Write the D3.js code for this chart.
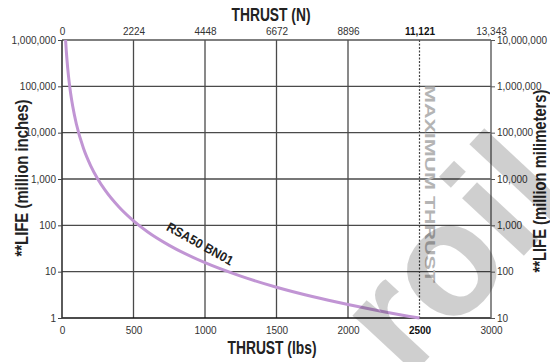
<!DOCTYPE html>
<html>
<head>
<meta charset="utf-8">
<script src="https://cdn.jsdelivr.net/npm/d3@7"></script>
<style>
  body { margin: 0; background: #fff; }
  svg { display: block; font-family: "Liberation Sans", Arial, sans-serif; }
</style>
</head>
<body>
<div id="chart"></div>
<script>
// thrust in lbs, life in million inches
const thrustLbs = [25, 30, 40, 50, 60, 75, 100, 150, 200, 250, 300, 400, 500, 600, 750, 1000, 1250, 1500, 1750, 2000, 2250, 2500];
const lifeInches = [1000000, 580000, 245000, 125000, 72000, 37000, 15600, 4600, 1950, 1000, 580, 245, 125, 72, 37, 15.6, 8, 4.6, 2.9, 1.95, 1.37, 1];

const bottomTicks = [0, 500, 1000, 1500, 2000, 2500, 3000];
const topTickLabels = ["0", "2224", "4448", "6672", "8896", "11,121", "13,343"];
const leftTicks = [1, 10, 100, 1000, 10000, 100000, 1000000];
const rightTickLabels = ["10", "100", "1,000", "10,000", "100,000", "1,000,000", "10,000,000"];
const maxThrust = 2500;
const curveName = "RSA50 BN01";

const width = 550, height = 362;
const margin = { top: 40, right: 59, bottom: 44, left: 62 };
const iw = width - margin.left - margin.right;
const ih = height - margin.top - margin.bottom;

const svg = d3.select("#chart").append("svg")
  .attr("width", width)
  .attr("height", height);

const g = svg.append("g")
  .attr("transform", "translate(" + margin.left + "," + margin.top + ")");

let x = d3.scaleLinear().domain([0, 3000]).range([0, iw]);
let y = d3.scaleLog().domain([1, 1000000]).range([ih, 0]);

const gridColor = "#4a4a4a";

// horizontal grid
g.append("g").selectAll("line")
  .data(leftTicks.slice(1, -1))
  .join("line")
  .attr("x1", 0).attr("x2", iw)
  .attr("y1", d => y(d)).attr("y2", d => y(d))
  .attr("stroke", gridColor).attr("stroke-width", 1.3);

// vertical grid (except max thrust, drawn dotted)
g.append("g").selectAll("line")
  .data(bottomTicks.filter(d => d != 0 && d != 3000 && d != maxThrust))
  .join("line")
  .attr("x1", d => x(d)).attr("x2", d => x(d))
  .attr("y1", 0).attr("y2", ih)
  .attr("stroke", gridColor).attr("stroke-width", 1.3);

g.append("line")
  .attr("x1", x(maxThrust)).attr("x2", x(maxThrust))
  .attr("y1", 0).attr("y2", ih)
  .attr("stroke", "#444").attr("stroke-width", 1.2)
  .attr("stroke-dasharray", "2,1.5");

// maximum thrust label
g.append("text")
  .attr("transform", "translate(" + (x(maxThrust) + 5) + "," + (184 - margin.top) + ") rotate(90)")
  .attr("text-anchor", "middle")
  .attr("font-size", 14)
  .attr("font-weight", "bold")
  .attr("textLength", 198)
  .attr("lengthAdjust", "spacingAndGlyphs")
  .attr("fill", "#b4b4b4")
  .text("MAXIMUM THRUST");

// frame
g.append("line").attr("x1", 0).attr("x2", iw).attr("y1", 0).attr("y2", 0)
  .attr("stroke", "#555").attr("stroke-width", 1.5);
g.append("line").attr("x1", 0).attr("x2", iw).attr("y1", ih).attr("y2", ih)
  .attr("stroke", "#111").attr("stroke-width", 1.6);
g.append("line").attr("x1", 0).attr("x2", 0).attr("y1", 0).attr("y2", ih)
  .attr("stroke", "#333").attr("stroke-width", 1.6);
g.append("line").attr("x1", iw).attr("x2", iw).attr("y1", 0).attr("y2", ih)
  .attr("stroke", "#666").attr("stroke-width", 1.5);

// left axis
const yAxisL = d3.axisLeft(y).tickValues(leftTicks).tickSize(4).tickPadding(2)
  .tickFormat(d3.format(","));
g.append("g").call(yAxisL)
  .call(a => a.select(".domain").remove())
  .call(a => a.selectAll("line").attr("stroke", "#444"))
  .call(a => a.selectAll("text").attr("font-size", 10).attr("fill", "#333")
    .attr("font-family", "Liberation Sans, sans-serif"));

// right axis
const yAxisR = d3.axisRight(y).tickValues(leftTicks).tickSize(4).tickPadding(2)
  .tickFormat((d, i) => rightTickLabels[i]);
g.append("g").attr("transform", "translate(" + iw + ",0)").call(yAxisR)
  .call(a => a.select(".domain").remove())
  .call(a => a.selectAll("line").attr("stroke", "#555"))
  .call(a => a.selectAll("text").attr("font-size", 10).attr("fill", "#333")
    .attr("font-family", "Liberation Sans, sans-serif"));

// bottom axis
const xAxisB = d3.axisBottom(x).tickValues(bottomTicks).tickSize(0).tickPadding(9)
  .tickFormat(d3.format("d"));
g.append("g").attr("transform", "translate(0," + ih + ")").call(xAxisB)
  .call(a => a.select(".domain").remove())
  .call(a => a.selectAll("text").attr("font-size", 10)
    .attr("font-family", "Liberation Sans, sans-serif")
    .attr("font-weight", d => d == maxThrust ? "bold" : null)
    .attr("fill", d => d == maxThrust ? "#111" : "#333"));

// top axis
const xAxisT = d3.axisTop(x).tickValues(bottomTicks).tickSize(0).tickPadding(5)
  .tickFormat((d, i) => topTickLabels[i]);
g.append("g").call(xAxisT)
  .call(a => a.select(".domain").remove())
  .call(a => a.selectAll("text").attr("font-size", 10)
    .attr("font-family", "Liberation Sans, sans-serif")
    .attr("font-weight", d => d == maxThrust ? "bold" : null)
    .attr("fill", d => d == maxThrust ? "#111" : "#333"));

// curve
const line = d3.line()
  .x(d => x(d[0]))
  .y(d => y(d[1]))
  .curve(d3.curveMonotoneX);

g.append("path")
  .datum(d3.zip(thrustLbs, lifeInches))
  .attr("d", line)
  .attr("fill", "none")
  .attr("stroke", "#c195d4")
  .attr("stroke-width", 3);

// curve label
g.append("text")
  .attr("transform", "translate(" + (x(950)) + "," + (y(40) + 4) + ") rotate(29)")
  .attr("text-anchor", "middle")
  .attr("font-size", 13)
  .attr("font-weight", "bold")
  .attr("textLength", 74)
  .attr("lengthAdjust", "spacingAndGlyphs")
  .attr("fill", "#222")
  .text(curveName);

// axis titles
function title(sel, txt, len, size) {
  return sel.append("text")
    .attr("text-anchor", "middle")
    .attr("font-size", size).attr("font-weight", "bold").attr("fill", "#222")
    .attr("textLength", len)
    .attr("lengthAdjust", "spacingAndGlyphs")
    .text(txt);
}

title(svg, "THRUST (N)", 79, 19)
  .attr("transform", "translate(271,21)");

title(svg, "THRUST (lbs)", 89, 19)
  .attr("transform", "translate(272,354)");

title(svg, "**LIFE (million inches)", 157, 18)
  .attr("transform", "translate(28,178) rotate(-90)");

title(svg, "**LIFE (million milimeters)", 183, 18)
  .attr("transform", "translate(546,181) rotate(-90)");

// watermark
svg.append("text")
  .attr("transform", "translate(492,290) rotate(-47)")
  .attr("text-anchor", "middle")
  .attr("font-size", 160)
  .attr("font-weight", "bold")
  .attr("fill", "#000")
  .attr("fill-opacity", 0.19)
  .text("roil");
</script>
</body>
</html>
